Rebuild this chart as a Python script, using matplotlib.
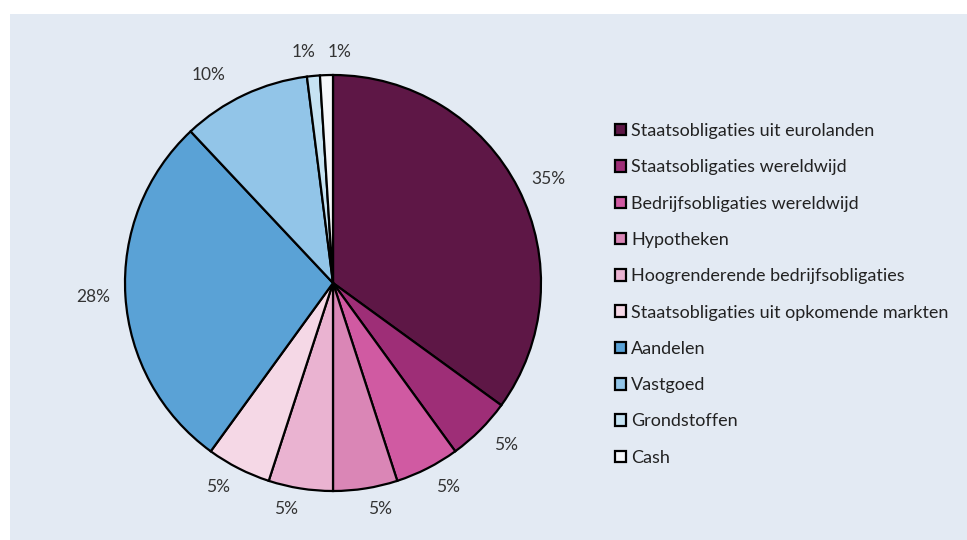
import math
import matplotlib.pyplot as plt
from matplotlib.patches import Rectangle

# asset allocation (percent)
categories = [
    "Staatsobligaties uit eurolanden",
    "Staatsobligaties wereldwijd",
    "Bedrijfsobligaties wereldwijd",
    "Hypotheken",
    "Hoogrenderende bedrijfsobligaties",
    "Staatsobligaties uit opkomende markten",
    "Aandelen",
    "Vastgoed",
    "Grondstoffen",
    "Cash",
]
shares = [35, 5, 5, 5, 5, 5, 28, 10, 1, 1]
colors = ["#5e1746", "#9e2e77", "#d05aa2", "#da86b6", "#eab3d1",
          "#f5d8e6", "#5aa2d6", "#92c5e8", "#c6e3f3", "#f5f7fa"]

plt.rcParams['font.family'] = ['Lato', 'DejaVu Sans']

W, H = 967, 540
fig = plt.figure(figsize=(W / 100, H / 100), dpi=100)
fig.patch.set_facecolor("white")
# light panel behind the chart
fig.patches.append(Rectangle((10 / W, 0), 1 - 10 / W, 1 - 14 / H,
                             transform=fig.transFigure, facecolor="#e3eaf3",
                             edgecolor="none", zorder=-1))

# pie centred at (333, 283) px, radius 208 px
cx, cy, r = 333, 283, 208
ax = fig.add_axes([(cx - r) / W, (H - cy - r) / H, 2 * r / W, 2 * r / H])
wedges, _, pct = ax.pie(shares, colors=colors, startangle=90, counterclock=False,
                        autopct="%d%%", pctdistance=1.10,
                        wedgeprops=dict(edgecolor="black", linewidth=1.6))
for t in pct:
    t.set_fontsize(12.5)
    t.set_color("#333333")
    x, y = t.get_position()
    # labels sit a bit further out sideways, like the original
    t.set_position((x + math.copysign(0.055, x), y))
# the small slices at the top are spread apart in the original
pct[7].set_position((-0.60, 1.00))
pct[8].set_position((-0.14, 1.11))
pct[9].set_position((0.03, 1.11))
ax.set_xlim(-1, 1)
ax.set_ylim(-1, 1)
ax.axis("off")

fig.legend(wedges, categories, loc="upper left",
           bbox_to_anchor=(615 / W, 1 - 123 / H), frameon=False,
           fontsize=13, handlelength=0.6, handleheight=0.6,
           handletextpad=0.3, labelspacing=1.125, labelcolor="#222222",
           borderaxespad=0, borderpad=0)

fig.savefig("out.png", dpi=100)
